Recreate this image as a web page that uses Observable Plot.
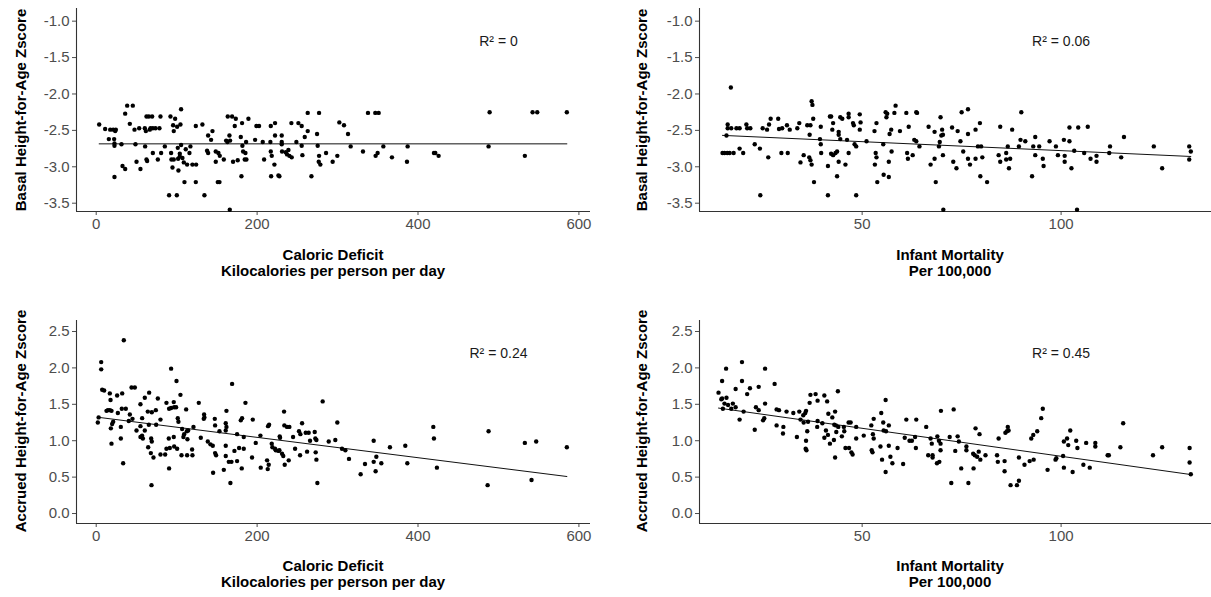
<!DOCTYPE html>
<html><head><meta charset="utf-8">
<script src="https://cdn.jsdelivr.net/npm/d3@7"></script>
<script src="https://cdn.jsdelivr.net/npm/@observablehq/plot@0.6"></script>
<style>
body{margin:0;background:#fff;}
#wrap{position:relative;width:1211px;height:597px;overflow:hidden;font-family:"Liberation Sans",Arial,sans-serif;background:#fff;}
.panel{position:absolute;}
.ytitle{position:absolute;font-weight:bold;font-size:15px;color:#000;white-space:nowrap;transform:translate(-50%,-50%) rotate(-90deg);}
.xtitle{position:absolute;font-weight:bold;font-size:15px;line-height:15.5px;color:#000;text-align:center;white-space:nowrap;transform:translateX(-50%);}
</style></head><body><div id="wrap"></div>
<script>
// Basal HAZ vs caloric deficit
const basalVsCalories = [
[38.5,-2.16],[45.5,-2.16],[36,-2.27],[105.5,-2.21],[262.9,-2.26],[277,-2.26],
[62.5,-2.31],[65.4,-2.31],[69.5,-2.31],[79.9,-2.31],[92.3,-2.31],[98.1,-2.34],
[163.5,-2.31],[168.9,-2.31],[173.5,-2.34],[189.2,-2.34],[181.3,-2.40],
[3.7,-2.42],[11.1,-2.48],[17.4,-2.49],[21.1,-2.49],[24.4,-2.49],[23.6,-2.51],
[41.8,-2.41],[47.6,-2.49],[53.4,-2.47],[60.4,-2.47],[61.7,-2.51],[67.5,-2.47],[70.4,-2.47],[73.7,-2.47],[78.6,-2.47],[66.6,-2.49],
[95.6,-2.43],[104.7,-2.42],[100.6,-2.45],[96.4,-2.51],[123.8,-2.44],[132,-2.42],
[172.2,-2.44],[199.1,-2.44],[202.4,-2.44],[217,-2.44],[222.3,-2.40],[242.6,-2.40],[251.3,-2.40],[255.4,-2.44],[262.9,-2.51],[259.2,-2.59],
[15.7,-2.62],[22.3,-2.62],[22.7,-2.71],[22.7,-2.68],[31.4,-2.69],[48.8,-2.69],[60.8,-2.72],[85.3,-2.72],
[139.1,-2.57],[144.5,-2.51],[142.8,-2.63],[161.5,-2.64],[163.1,-2.66],[165.6,-2.57],[166.4,-2.64],
[179.7,-2.59],[186.3,-2.66],[181.7,-2.71],[197.5,-2.63],[207,-2.66],[216.5,-2.66],[222.3,-2.57],[230.6,-2.57],[230.6,-2.66],[230.6,-2.69],[238.9,-2.77],[248.8,-2.66],[255.4,-2.71],[274.5,-2.55],[275.3,-2.71],[277,-2.85],[285.7,-2.81],
[70.4,-2.81],[80.7,-2.81],[93.1,-2.81],[101.4,-2.74],[105.5,-2.70],[103.9,-2.82],[117.1,-2.72],[111.3,-2.76],[115.9,-2.81],
[137.8,-2.78],[139.1,-2.81],[148.6,-2.79],[151.9,-2.81],[153.6,-2.85],[148.6,-2.93],[158.6,-2.90],
[182.6,-2.79],[185.5,-2.81],[184.6,-2.90],[170.1,-2.93],[175.9,-2.91],[186.7,-2.90],[208.7,-2.90],[217,-2.79],[218.2,-2.85],[231,-2.79],[235.6,-2.80],[237.2,-2.83],[240.1,-2.85],[243,-2.87],[256.3,-2.84],[276.6,-2.93],[278.6,-2.97],
[50.1,-2.93],[62.5,-2.90],[63.3,-2.92],[76.6,-2.90],[93.5,-2.90],[94.8,-3.01],[96.4,-2.90],[101.8,-2.89],[103.9,-2.86],[107.2,-2.88],[108.9,-2.94],[113,-2.97],[119.6,-2.97],[124.2,-2.97],
[32.7,-2.99],[36,-3.03],[55,-3.03],[102.2,-3.05],[22.7,-3.14],
[109.7,-3.21],[123.8,-3.21],[151.1,-3.21],[153.2,-3.21],[180.5,-3.13],[217.4,-3.13],[226.5,-3.12],[227.7,-3.13],[267.5,-3.13],[221.5,-2.97],
[90.6,-3.39],[100.2,-3.39],[134.5,-3.39],[166,-3.59],
[337.8,-2.26],[346.9,-2.26],[351.1,-2.26],[302.2,-2.39],[308,-2.43],[313,-2.55],[316.3,-2.72],[293.9,-2.93],[299.7,-2.85],[331.6,-2.79],[347.3,-2.85],[349.8,-2.81],[356.9,-2.72],[367.6,-2.87],[387.1,-2.72],[386.3,-2.93],[419.8,-2.81],[421.5,-2.81],[425.6,-2.85],[489,-2.25],[487.7,-2.72],[532.8,-2.85],[542.4,-2.25],[548.2,-2.25],[585,-2.25]
];

// Basal HAZ vs infant mortality
const basalVsMortality = [
[17,-1.91],[16.2,-2.42],[16.2,-2.47],[17.1,-2.47],[18.4,-2.47],[19.2,-2.47],[15.9,-2.57],[20.9,-2.42],[21.1,-2.47],[21.9,-2.47],
[14.9,-2.81],[15.4,-2.81],[16.1,-2.81],[16.7,-2.81],[17.7,-2.81],[19.2,-2.75],[20.1,-2.81],[23,-2.69],[24.3,-2.75],
[25,-2.47],[26.1,-2.49],[26.6,-2.42],[27,-2.34],[26.4,-2.87],[24.4,-3.39],
[28.9,-2.34],[29.1,-2.48],[29.9,-2.47],[29.7,-2.81],[31.1,-2.43],[31.3,-2.81],[31.8,-2.49],
[33.7,-2.47],[34.2,-2.40],[35.3,-2.84],[34.5,-2.94],[36.2,-2.43],[37,-2.43],[36.8,-2.56],[36.7,-2.87],[37,-2.91],[37.3,-2.97],
[37.3,-2.10],[37.5,-2.15],[37.7,-2.34],[37.9,-3.21],[39.4,-2.62],[39.6,-2.69],[39.7,-2.81],[39.6,-2.45],[41.4,-3.39],[41.4,-2.99],
[41.9,-2.31],[42.2,-2.31],[42.7,-2.40],[42.5,-2.49],[42.2,-2.82],[42.7,-2.84],[43.3,-2.81],[43.7,-2.79],[43.7,-3.13],[44.1,-2.93],[44.1,-2.52],[44.1,-2.56],
[44.5,-2.32],[45,-2.34],[44.5,-2.62],[45.8,-2.97],[46.2,-2.63],[46.6,-2.27],[46.6,-2.32],[46.6,-2.81],
[47.7,-2.40],[47.9,-2.43],[48.1,-2.69],[48.5,-2.72],[49.4,-2.28],[49.6,-2.39],[49.4,-2.49],[48.5,-3.39],
[51.1,-2.65],[53.1,-2.51],[53.6,-2.40],[53.4,-2.81],[53.6,-2.87],[53.2,-2.97],[53.8,-3.21],
[55.3,-2.69],[55.4,-3.11],[56.7,-3.14],[56.3,-2.27],[55.9,-2.25],[56.1,-2.32],[57.3,-2.49],[56.9,-2.55],[57.4,-2.79],[56.7,-2.93],
[58.4,-2.16],[58.1,-2.26],[59.5,-2.51],[61.1,-2.26],[61.7,-2.45],[61.3,-2.81],[61.5,-2.89],[62.7,-2.84],
[63.1,-2.63],[63.6,-2.65],[63.8,-2.26],[63.6,-2.25],[64.4,-2.72],
[66.7,-2.45],[67.2,-2.97],[68.2,-2.89],[68.5,-3.21],[68.2,-2.52],[69.3,-2.72],[69.5,-2.66],[69.9,-2.57],[69.7,-2.32],[70.1,-2.49],[70.3,-2.84],[70.4,-3.59],
[70.3,-2.56],[72.6,-2.46],[72.9,-2.93],[73.7,-3.02],[74,-2.51],[74.7,-2.65],[75.4,-2.79],[75,-2.25],[76.6,-2.21],
[76.6,-2.55],[76.6,-2.89],[77.1,-2.97],[78.5,-2.49],[78.5,-2.89],[79.1,-2.72],[79.6,-2.40],[79.9,-2.72],[80.2,-2.87],[79.7,-3.13],[81.4,-3.21],
[84.3,-2.84],[84.7,-2.45],[84.7,-2.93],[86.2,-2.81],[86.2,-2.90],[86.6,-2.72],[87.2,-2.89],[86.9,-3.02],[87.7,-2.49],
[89.4,-2.72],[89.8,-2.63],[90,-2.25],[91,-2.65],
[92.7,-3.13],[93,-2.72],[93.5,-2.59],[93.5,-2.84],[94.5,-2.72],[95.4,-2.89],[95.6,-2.99],[97.1,-2.65],
[98.7,-2.72],[99.2,-2.84],[100.7,-2.63],[100.9,-2.85],[100.9,-2.93],[102.1,-2.65],[102.1,-2.46],[102.6,-3.02],[103.3,-2.78],[104,-3.59],
[104.3,-2.46],[105.8,-2.81],[106.7,-2.45],[107.4,-2.89],[108.9,-2.85],[108.9,-2.93],
[112.1,-2.81],[112.3,-2.72],[115.1,-2.87],[115.8,-2.59],[123.3,-2.72],[125.4,-3.02],[132.2,-2.72],[132.6,-2.79],[132.2,-2.90]
];

// Accrued HAZ vs caloric deficit
const accruedVsCalories = [
[34.3,2.38],[6.2,2.08],[6.2,1.98],[93.1,1.99],[99.8,1.82],[168.9,1.78],[7.4,1.70],[9.9,1.69],[16.9,1.65],[26,1.62],[32.3,1.65],[43.9,1.73],[48,1.73],[65.8,1.66],[60.4,1.59],[104.7,1.63],[76.6,1.58],[87.3,1.52],
[96.4,1.53],[99.3,1.46],[96.9,1.46],[93.1,1.45],[90.6,1.44],[111.8,1.43],[127.5,1.52],[17.8,1.56],
[14.5,1.42],[17,1.42],[19,1.41],[12.8,1.41],[26.9,1.38],[31.8,1.44],[36.8,1.44],[41.8,1.36],[45.1,1.30],[55,1.50],[64.1,1.40],[69.1,1.39],[74.1,1.42],[57.1,1.31],
[21.1,1.26],[19.8,1.23],[18.2,1.17],[30.6,1.19],[40.5,1.27],[2,1.25],[3,1.32],
[50.1,1.14],[55,1.20],[60.4,1.14],[65.4,1.22],[74.5,1.22],[79.9,1.29],[55,1.05],[57,1.07],[58,1.03],
[19,0.96],[30.6,1.03],[33.5,0.69],[68.3,1.03],[69.1,0.99],[64.6,0.91],[67.9,0.83],[71.2,0.77],[79.9,0.81],[85.7,0.81],
[87.3,0.89],[91.5,0.90],[96.9,0.92],[100.6,0.89],[90.2,1.03],[96.4,1.05],[90.6,0.62],[68.7,0.39],
[101.4,1.31],[102.2,1.26],[106.8,1.16],[109.3,1.09],[112.6,1.13],[114.3,1.14],[108.4,1.05],[113.4,1.02],
[106,0.80],[113,0.80],[119.6,0.80],[119.2,0.88],[120.9,1.19],[130,1.04],[134.1,1.36],[134.5,1.32],[133.7,1.30],
[138.7,0.99],[142,0.95],[144.9,0.93],[147.4,1.30],[147.8,1.21],[153.2,1.13],[161,1.24],[161,1.14],[161.9,1.19],[161.9,1.41],
[147.8,0.83],[149,0.80],[161,0.93],[161,0.79],[145.3,0.56],[158.6,0.60],[164.8,0.71],[168.1,0.71],[166.8,0.42],
[171.8,0.86],[175.1,1.09],[177.6,0.90],[175.1,0.72],[180.9,0.62],[179.7,1.28],[181.3,1.31],[185.5,1.52],[183.4,1.05],[183.4,0.89],
[194.6,1.29],[193.7,0.77],[198.3,0.97],[204.1,1.07],[204.5,0.63],[212.4,0.73],[214.4,0.67],[213.6,1.20],[214.9,1.22],[213.2,0.61],
[218.2,0.96],[219,0.91],[222.3,0.89],[223.2,0.87],[226.5,0.86],[227.7,0.87],[228.5,1.04],[228.1,1.06],[231,0.82],[232.5,0.79],
[233.5,1.40],[233.9,1.21],[237.2,1.19],[240.1,1.19],[234.3,0.67],[239.3,0.73],[244.7,1.05],[247.2,0.89],[253.4,0.80],[253.8,1.09],[252.1,1.13],[255.9,1.24],
[260.4,1.11],[264.1,1.11],[262.1,0.85],[265.8,1.00],[271.6,1.12],[272.4,1.03],[273.7,1.01],[272.8,0.84],[273.7,0.74],[274.9,0.42],[281.5,1.54],[289,0.99],
[299.7,1.25],[297.2,1.01],[305.5,0.89],[309.7,0.87],[314.2,0.75],[328.7,0.54],[334.1,0.68],[344.9,1.00],[344.9,0.71],[348.2,0.78],[354.4,0.69],[347.3,0.58],[365.1,0.91],[384.2,0.93],[386.7,0.69],[419,1.19],[419.8,1.03],[423.5,0.63],[487.7,1.13],[486.5,0.39],[532.8,0.97],[546.9,0.99],[541.1,0.46],[585,0.91]
];

// Accrued HAZ vs infant mortality
const accruedVsMortality = [
[19.8,2.08],[15.8,1.99],[25.6,1.99],[14.8,1.82],[19.8,1.82],[28,1.78],[21.8,1.72],[24,1.74],[18.2,1.71],[13.9,1.66],[21.1,1.64],
[14.8,1.58],[15.9,1.59],[14.6,1.57],[15.4,1.51],[16.3,1.49],[17.5,1.51],[18.2,1.46],[17.1,1.44],[15,1.44],[25.6,1.51],[20.2,1.40],[23.3,1.46],[24,1.42],[19.2,1.29],[25.1,1.28],[25.4,1.31],[23,1.15],
[28.5,1.43],[29.1,1.42],[31,1.40],[32.7,1.38],[34.2,1.40],[28.5,1.21],[30.2,1.19],[30.1,1.10],[33.6,1.05],
[37,1.63],[38.3,1.64],[40.5,1.62],[38.8,1.55],[41.2,1.54],[43.9,1.68],[36.8,1.52],[35.9,1.41],[35.7,1.38],[35.2,1.35],[34.5,1.29],[35.3,1.25],[36.4,1.26],[38.8,1.27],
[35.9,1.00],[36.2,1.13],[35.8,0.89],[36,0.87],[38.7,1.19],[40,1.24],[40.9,1.14],[41.5,1.37],[42.5,1.32],[43.2,1.40],
[40.5,1.04],[41.4,1.08],[41.9,0.96],[42.9,1.01],[43,1.22],[43.4,1.21],[44,1.19],[43.5,1.12],[43.2,0.77],
[44.9,1.06],[45.5,1.13],[45.4,1.19],[46.6,1.25],[47.1,1.25],[45.8,0.90],[46.7,0.90],[47.3,0.84],[47.6,0.81],[48.5,1.19],[48.5,1.03],[50.4,1.07],
[52.3,1.21],[52.7,1.09],[52.9,1.30],[52.9,1.03],[52.4,0.87],[52.6,0.84],[54.6,0.92],[54.8,1.38],[55.3,1.25],
[55,0.74],[55.4,1.14],[55.9,1.56],[56,1.13],[56.7,1.21],[56.7,0.93],[57.1,0.78],[57.6,0.69],[55.9,0.57],[58.9,0.90],
[60.3,0.68],[60.7,1.04],[61.1,1.29],[61.9,1.00],[62.5,1.00],[63.5,0.90],[63.6,1.29],[63.3,1.05],
[66.1,1.19],[66.6,0.80],[67.2,1.03],[67.7,0.80],[67.7,0.77],[67.5,0.96],[68.9,1.06],[69.3,1.00],[69.7,0.87],[69.8,1.41],[69.7,0.96],[68.8,0.69],[69.4,0.71],
[73,1.43],[72,1.05],[74,1.06],[74.3,0.99],[73.4,0.86],[76.2,0.92],[76.2,0.87],[74.9,0.62],[78,0.62],[77.9,0.82],[78.3,0.80],[78.9,0.78],[79.3,0.85],[79.7,0.74],[81,0.80],[76.7,0.42],[72.4,0.42],
[78.5,1.17],[79.5,1.09],
[83.9,0.80],[84.1,0.71],[84.3,1.03],[85.8,0.72],[85.8,0.58],[86,1.11],[86.4,1.13],[86.8,1.14],[86.6,1.19],[87.3,0.39],[88.9,0.39],[89.4,0.45],
[89.4,0.77],[90.8,0.67],[92.1,0.72],[93.1,0.74],[92.5,1.03],[93,1.08],[94,1.13],[95,1.31],[95.4,1.44],
[96.6,0.60],[98.6,0.74],[98.8,0.76],
[100.5,0.79],[100.7,0.99],[100.7,0.63],[101.5,1.03],[101.8,0.94],[102.3,1.14],[102.9,0.57],[103.8,1.00],[104.1,0.90],
[105.6,0.67],[106.3,0.97],[107.2,0.63],[108.6,0.97],[108.6,0.92],
[111.7,0.80],[112,0.80],[114.9,0.91],[115.6,1.24],[123.1,0.80],[125.4,0.91],[132.3,0.90],[132.3,0.70],[132.6,0.54]
];

// Fitted regression lines (intercept, slope)
const fitIntercept = [-2.685, -2.532, 1.325, 1.555];
const fitSlope = [0, -0.00246, -0.001396, -0.00769];

const calorieTicks = [0, 200, 400, 600];
const mortalityTicks = [50, 100];
const basalTicks = [-3.5, -3.0, -2.5, -2.0, -1.5, -1.0];
const accruedTicks = [0.0, 0.5, 1.0, 1.5, 2.0, 2.5];
const calorieDomain = [-24.5, 614.4];
const mortalityDomain = [9.12, 137.8];
const basalDomain = [-3.614, -0.826];
const accruedDomain = [-0.137, 2.651];

const r2Labels = ["R\u00B2 = 0", "R\u00B2 = 0.06", "R\u00B2 = 0.24", "R\u00B2 = 0.45"];
const r2X = [500, 100, 500, 100];
const r2Y = [-1.28, -1.28, 2.2, 2.2];

const yTitles = ["Basal Height-for-Age Zscore", "Accrued Height-for-Age Zscore"];
const xTitles = [["Caloric Deficit", "Kilocalories per person per day"], ["Infant Mortality", "Per 100,000"]];

const wrap = document.getElementById("wrap");

function panel(opts) {
  const i = opts.i;
  const pts = opts.data.map(([x, y]) => ({x, y}));
  const fit = d3.extent(pts, d => d.x).map(x => ({x, y: fitIntercept[i] + fitSlope[i] * x}));
  const chart = Plot.plot({
    width: opts.width, height: 240,
    marginLeft: opts.mL, marginRight: opts.mR, marginTop: 8, marginBottom: 29,
    style: {fontFamily: '"Liberation Sans", Arial, sans-serif', color: "#4d4d4d", background: "transparent", overflow: "visible"},
    x: {domain: opts.xDomain},
    y: {domain: opts.yDomain},
    marks: [
      Plot.axisX({ticks: opts.xTicks, tickFormat: d => String(d), tickSize: 4, tickPadding: 3, fontSize: 15, label: null}),
      Plot.axisY({ticks: opts.yTicks, tickFormat: d => d.toFixed(1), tickSize: 4, tickPadding: 3, fontSize: 15, label: null}),
      Plot.ruleY([opts.yDomain[0]], {stroke: "#333", strokeWidth: 1.1}),
      Plot.ruleX([opts.xDomain[0]], {stroke: "#333", strokeWidth: 1.1}),
      Plot.line(fit, {x: "x", y: "y", stroke: "#111", strokeWidth: 1}),
      Plot.dot(pts, {x: "x", y: "y", r: 2.2, fill: "#000", stroke: "none"}),
      Plot.text([0], {x: () => r2X[i], y: () => r2Y[i], text: () => r2Labels[i], fontSize: 14, fill: "#1a1a1a", textAnchor: "middle"})
    ]
  });
  const div = document.createElement("div");
  div.className = "panel";
  div.style.left = opts.left + "px";
  div.style.top = opts.top + "px";
  div.appendChild(chart);
  wrap.appendChild(div);
}

panel({i: 0, data: basalVsCalories, xDomain: calorieDomain, yDomain: basalDomain, xTicks: calorieTicks, yTicks: basalTicks,
  left: 0, top: 0, width: 600, mL: 76, mR: 10});
panel({i: 1, data: basalVsMortality, xDomain: mortalityDomain, yDomain: basalDomain, xTicks: mortalityTicks, yTicks: basalTicks,
  left: 610, top: 0, width: 601, mL: 89, mR: 0});
panel({i: 2, data: accruedVsCalories, xDomain: calorieDomain, yDomain: accruedDomain, xTicks: calorieTicks, yTicks: accruedTicks,
  left: 0, top: 312, width: 600, mL: 76, mR: 10});
panel({i: 3, data: accruedVsMortality, xDomain: mortalityDomain, yDomain: accruedDomain, xTicks: mortalityTicks, yTicks: accruedTicks,
  left: 610, top: 312, width: 601, mL: 89, mR: 0});

function addY(text, x, y) {
  const d = document.createElement("div");
  d.className = "ytitle"; d.textContent = text;
  d.style.left = x + "px"; d.style.top = y + "px";
  wrap.appendChild(d);
}
function addX(lines, x, y) {
  const d = document.createElement("div");
  d.className = "xtitle"; d.innerHTML = lines.join("<br>");
  d.style.left = x + "px"; d.style.top = y + "px";
  wrap.appendChild(d);
}
addY(yTitles[0], 20, 110); addY(yTitles[0], 641, 110);
addY(yTitles[1], 20, 421); addY(yTitles[1], 641, 421);
addX(xTitles[0], 333, 247); addX(xTitles[1], 950, 247);
addX(xTitles[0], 333, 558); addX(xTitles[1], 950, 558);
</script></body></html>
